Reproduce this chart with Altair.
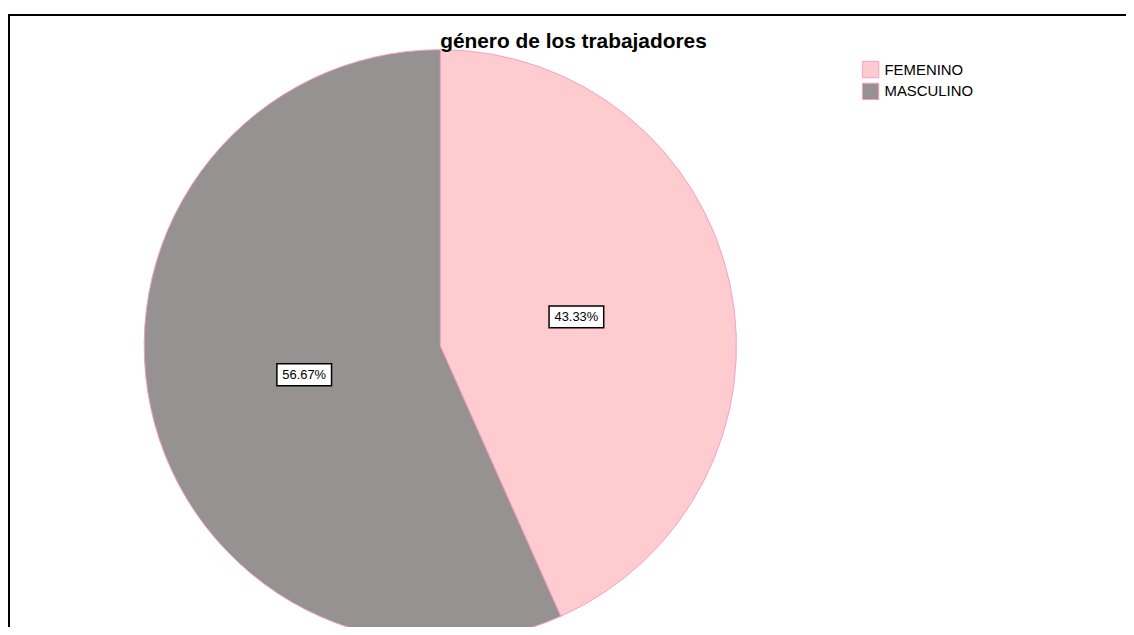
import altair as alt
import pandas as pd

# Data
categorias = ["FEMENINO", "MASCULINO"]
porcentajes = [43.33, 56.67]
etiquetas = ["43.33%", "56.67%"]
orden = [0, 1]

colores = ["#FECBCF", "#979292"]
borde_rosa = "#F3A0C8"

df = pd.DataFrame({
    "genero": categorias,
    "pct": porcentajes,
    "etiqueta": etiquetas,
    "orden": orden,
})

CX, CY, R = 434, 333, 298
RL = 140
FONT = "Liberation Sans"

base = alt.Chart(df)

pie = base.mark_arc(radius=R, stroke=borde_rosa, strokeWidth=1).encode(
    theta=alt.Theta("pct:Q", stack=True),
    color=alt.Color(
        "genero:N",
        scale=alt.Scale(domain=categorias, range=colores),
        legend=alt.Legend(
            title=None,
            orient="none",
            legendX=858,
            legendY=46,
            padding=0,
            symbolType="square",
            symbolSize=272,
            symbolStrokeColor=borde_rosa,
            symbolStrokeWidth=1,
            symbolOpacity=1,
            labelFont=FONT,
            labelFontSize=15,
            labelColor="black",
            labelOffset=5,
            rowPadding=0,
        ),
    ),
    order=alt.Order("orden:Q"),
    x=alt.value(CX),
    y=alt.value(CY),
)

lab_base = base.transform_window(
    cum="sum(pct)", sort=[alt.SortField("orden")]
).transform_joinaggregate(
    total="sum(pct)"
).transform_calculate(
    mid="2*PI*(datum.cum - datum.pct/2)/datum.total"
).transform_calculate(
    lx=f"{CX} + {RL}*sin(datum.mid)",
    ly=f"{CY} - {RL}*cos(datum.mid)",
)

boxes = lab_base.mark_point(
    shape="M-1,-0.4H1V0.4H-1Z",
    size=3025,
    filled=True,
    fill="white",
    stroke="black",
    strokeWidth=1.5,
    opacity=1,
).encode(
    x=alt.X("lx:Q", scale=None, axis=None),
    y=alt.Y("ly:Q", scale=None, axis=None),
)

texts = lab_base.mark_text(
    font=FONT, fontSize=13, color="black", align="center", baseline="middle"
).encode(
    x=alt.X("lx:Q", scale=None, axis=None),
    y=alt.Y("ly:Q", scale=None, axis=None),
    text="etiqueta:N",
)

chart = alt.layer(pie, boxes, texts).properties(
    width=1136,
    height=700,
    title=alt.TitleParams(
        "género de los trabajadores",
        font=FONT,
        fontSize=21,
        fontWeight="bold",
        color="black",
        anchor="middle",
        offset=-37,
    ),
    autosize=alt.AutoSizeParams(type="none"),
    padding={"left": 1, "top": 5, "right": -12, "bottom": -86},
).configure(
    background="white"
).configure_view(
    stroke="black", strokeWidth=2, fill="white"
)

chart.save("out.html", embed_options={"renderer": "svg", "actions": False})
